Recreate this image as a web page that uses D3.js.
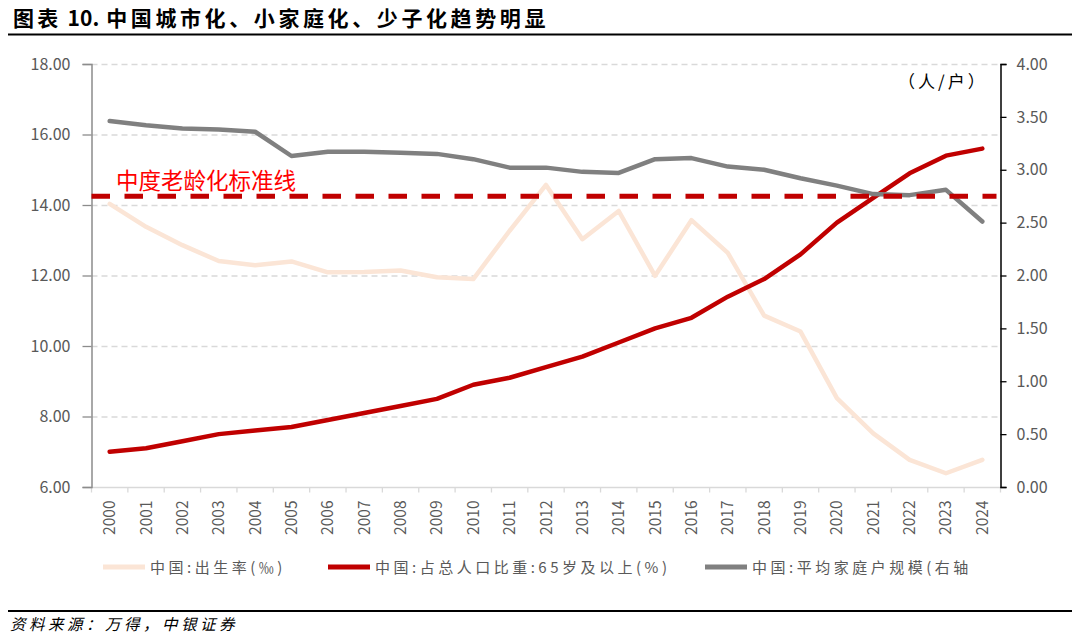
<!DOCTYPE html>
<html lang="zh">
<head>
	<meta charset="utf-8">
	<title>图表 10</title>
	<script src="https://d3js.org/d3.v7.min.js"></script>
	<style>
		body { margin: 0; background: #fff; }
		text { font-family: "Noto Sans CJK SC", "Noto Sans", sans-serif; }
	</style>
</head>
<body>
<div id="chart"></div>
<script>
	// data
	var years = ["2000","2001","2002","2003","2004","2005","2006","2007","2008","2009","2010","2011","2012",
		"2013","2014","2015","2016","2017","2018","2019","2020","2021","2022","2023","2024"];
	var birthRate = [14.03,13.38,12.86,12.41,12.29,12.40,12.09,12.10,12.14,11.95,11.90,13.27,14.57,
		13.03,13.83,11.99,13.57,12.64,10.86,10.41,8.52,7.52,6.77,6.39,6.77];
	var over65Share = [7.0,7.1,7.3,7.5,7.6,7.7,7.9,8.1,8.3,8.5,8.9,9.1,9.4,
		9.7,10.1,10.5,10.8,11.4,11.9,12.6,13.5,14.2,14.9,15.4,15.6];
	var householdSize = [3.46,3.42,3.39,3.38,3.36,3.13,3.17,3.17,3.16,3.15,3.10,3.02,3.02,
		2.98,2.97,3.10,3.11,3.03,3.00,2.92,2.85,2.77,2.76,2.81,2.51];
	var agingStandard = 14.25;
	var leftTicks = [6,8,10,12,14,16,18];
	var rightTicks = [0,0.5,1,1.5,2,2.5,3,3.5,4];
	var seriesNames = ["中国:出生率(‰)", "中国:占总人口比重:65岁及以上(%)", "中国:平均家庭户规模(右轴"];

	var width = 1080, height = 637;
	var plotLeft = 91.5, plotRight = 1000.5, plotTop = 64, plotBottom = 487;

	var svg = d3.select("#chart").append("svg")
		.attr("width", width)
		.attr("height", height);

	// title and rules
	var title = svg.append("text")
		.attr("x", 13).attr("y", 26)
		.attr("font-size", 21).attr("font-weight", "bold").attr("fill", "#000");
	title.append("tspan").attr("letter-spacing", 3.3).text("图表");
	title.append("tspan").attr("dx", 6).attr("letter-spacing", 0).text("10.");
	title.append("tspan").attr("dx", 7).attr("letter-spacing", 3.6).text("中国城市化、小家庭化、少子化趋势明显");
	svg.append("line").attr("x1", 8).attr("x2", 1072).attr("y1", 34.5).attr("y2", 34.5)
		.attr("stroke", "#000").attr("stroke-width", 2);
	svg.append("line").attr("x1", 8).attr("x2", 1072).attr("y1", 611).attr("y2", 611)
		.attr("stroke", "#000").attr("stroke-width", 2);
	svg.append("text")
		.attr("x", 10).attr("y", 630)
		.attr("font-size", 15.5).attr("font-style", "italic").attr("fill", "#000")
		.attr("letter-spacing", 3.5)
		.text("资料来源：万得，中银证券");

	// scales
	var x = d3.scaleBand().domain(years).range([plotLeft, plotRight]);
	var yL = d3.scaleLinear().domain([6, 18]).range([plotBottom, plotTop]);
	var yR = d3.scaleLinear().domain([0, 4]).range([plotBottom, plotTop]);

	// gridlines
	svg.append("g").selectAll("line")
		.data(leftTicks.slice(1))
		.enter().append("line")
		.attr("x1", plotLeft).attr("x2", plotRight)
		.attr("y1", function(d) { return yL(d) + 0.5; })
		.attr("y2", function(d) { return yL(d) + 0.5; })
		.attr("stroke", "#d9d9d9").attr("stroke-width", 1.3)
		.attr("stroke-dasharray", "6,4");

	// x axis
	var xAxis = svg.append("g")
		.attr("transform", "translate(0," + (plotBottom + 0.5) + ")");
	xAxis.append("line").attr("x1", plotLeft).attr("x2", plotRight)
		.attr("stroke", "#d9d9d9").attr("stroke-width", 1.3);
	xAxis.selectAll("line.tk")
		.data(years.concat(["end"]))
		.enter().append("line")
		.attr("class", "tk")
		.attr("x1", function(d, i) { return plotLeft + i * x.bandwidth(); })
		.attr("x2", function(d, i) { return plotLeft + i * x.bandwidth(); })
		.attr("y1", 0).attr("y2", 5)
		.attr("stroke", "#d9d9d9").attr("stroke-width", 1.3);
	xAxis.selectAll("text")
		.data(years)
		.enter().append("text")
		.attr("transform", function(d) {
			return "translate(" + (x(d) + x.bandwidth() / 2 + 5.5) + ",13) rotate(-90)";
		})
		.attr("text-anchor", "end")
		.attr("font-size", 15.5).attr("fill", "#595959")
		.attr("font-family", "'Open Sans', sans-serif")
		.text(function(d) { return d; });

	// left axis
	var axL = svg.append("g")
		.attr("transform", "translate(" + plotLeft + ",0)")
		.call(d3.axisLeft(yL).tickValues(leftTicks).tickFormat(d3.format(".2f")).tickSize(9));
	axL.select(".domain").attr("stroke", "#8c8c8c").attr("stroke-width", 1.5);
	axL.selectAll(".tick line").attr("stroke", "#8c8c8c").attr("stroke-width", 1.3);
	axL.selectAll("text").attr("font-size", 16).attr("fill", "#595959")
		.attr("font-family", "'Open Sans', sans-serif").attr("x", -21);

	// right axis
	var axR = svg.append("g")
		.attr("transform", "translate(" + plotRight + ",0)")
		.call(d3.axisRight(yR).tickValues(rightTicks).tickFormat(d3.format(".2f")).tickSize(6));
	axR.select(".domain").attr("stroke", "#000").attr("stroke-width", 1.5);
	axR.selectAll(".tick line").attr("stroke", "#000").attr("stroke-width", 1.3);
	axR.selectAll("text").attr("font-size", 16).attr("fill", "#595959")
		.attr("font-family", "'Open Sans', sans-serif").attr("x", 16);
	svg.append("text")
		.attr("x", 898).attr("y", 88)
		.attr("font-size", 17).attr("fill", "#000")
		.attr("letter-spacing", 3)
		.text("（人/户）");

	// lines
	function cx(i) { return x(years[i]) + x.bandwidth() / 2; }
	var lineL = d3.line().x(function(d, i) { return cx(i); }).y(function(d) { return yL(d); });
	var lineR = d3.line().x(function(d, i) { return cx(i); }).y(function(d) { return yR(d); });

	svg.append("path").datum(birthRate)
		.attr("fill", "none").attr("stroke", "#fbe5d6").attr("stroke-width", 4.5)
		.attr("stroke-linejoin", "round").attr("stroke-linecap", "round")
		.attr("d", lineL);
	svg.append("path").datum(over65Share)
		.attr("fill", "none").attr("stroke", "#c00000").attr("stroke-width", 4.5)
		.attr("stroke-linejoin", "round").attr("stroke-linecap", "round")
		.attr("d", lineL);
	svg.append("path").datum(householdSize)
		.attr("fill", "none").attr("stroke", "#808080").attr("stroke-width", 4.5)
		.attr("stroke-linejoin", "round").attr("stroke-linecap", "round")
		.attr("d", lineR);

	// aging standard line
	svg.append("line")
		.attr("x1", plotLeft).attr("x2", plotRight - 4)
		.attr("y1", yL(agingStandard)).attr("y2", yL(agingStandard))
		.attr("stroke", "#c00000").attr("stroke-width", 5)
		.attr("stroke-dasharray", "18.5,14.5");
	svg.append("text")
		.attr("x", 116).attr("y", 189)
		.attr("font-size", 22.5).attr("fill", "#ff0000")
		.text("中度老龄化标准线");

	// legend
	var legendX = [103, 328, 705];
	var legendColor = ["#fbe5d6", "#c00000", "#808080"];
	var legend = svg.append("g").selectAll("g")
		.data(seriesNames)
		.enter().append("g")
		.attr("transform", function(d, i) { return "translate(" + legendX[i] + ",567)"; });
	legend.append("line")
		.attr("x1", 0).attr("x2", 42).attr("y1", 0).attr("y2", 0)
		.attr("stroke", function(d, i) { return legendColor[i]; })
		.attr("stroke-width", 5);
	legend.append("text")
		.attr("x", 47).attr("y", 5.5)
		.attr("font-size", 15).attr("fill", "#595959")
		.attr("letter-spacing", 3.5)
		.text(function(d) { return d; });
</script>
</body>
</html>
